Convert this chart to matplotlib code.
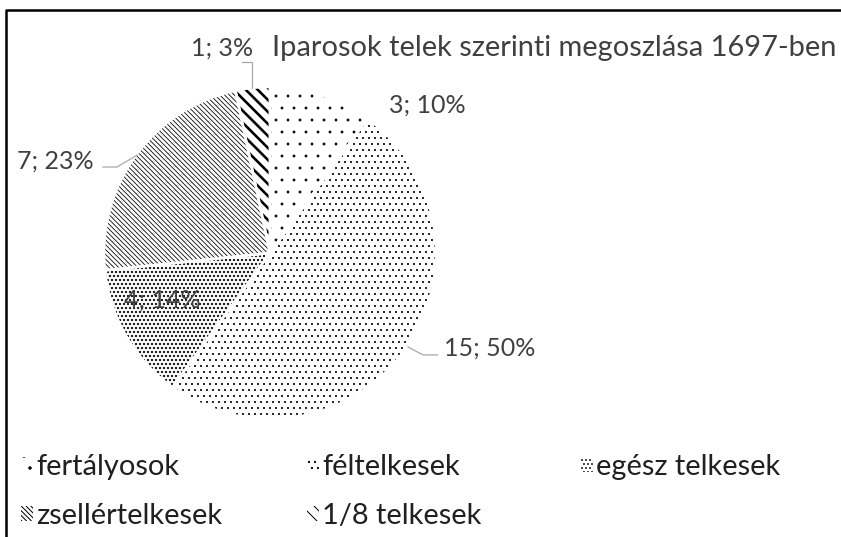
import matplotlib.pyplot as plt
from matplotlib.lines import Line2D

# data
categories = ['fertályosok', 'féltelkesek', 'egész telkesek', 'zsellértelkesek', '1/8 telkesek']
counts = [3, 15, 4, 7, 1]
pct_labels = ['10%', '50%', '14%', '23%', '3%']
title = 'Iparosok telek szerinti megoszlása 1697-ben'

# styles
hatches = ['.', '..', '...', '\\\\\\\\\\', '\\\\']
hatch_lw = [0.3, 0.8, 1.5, 0.8, 2.6]
txt_col = '#404040'
lead_col = '#a6a6a6'

DPI = 72
W, H = 841, 537
plt.rcParams['font.family'] = ['Lato', 'DejaVu Sans']
fig = plt.figure(figsize=(W / DPI, H / DPI), dpi=DPI)

# pie centre / radius in pixels
cx, cy, r = 270, 253, 166
ax = fig.add_axes([(cx - r) / W, (H - cy - r) / H, 2 * r / W, 2 * r / H])
wedges, _ = ax.pie(counts, startangle=90, counterclock=False, colors=['white'] * 5,
                   wedgeprops=dict(edgecolor='black', linewidth=0))
for w, h, lw in zip(wedges, hatches, hatch_lw):
    w.set_hatch(h)
    if hasattr(w, 'set_hatch_linewidth'):
        w.set_hatch_linewidth(lw)
# white separators
ax.pie(counts, startangle=90, counterclock=False, colors=['none'] * 5,
       wedgeprops=dict(edgecolor='white', linewidth=2.5))
ax.set_xlim(-1, 1)
ax.set_ylim(-1, 1)

# data labels
label_pos = [(0.946, 0.892), (1.325, -0.572), (-0.651, -0.283), (-1.295, 0.554), (-0.289, 1.235)]
for c, p, (x, y) in zip(counts, pct_labels, label_pos):
    ax.text(x, y, '%d; %s' % (c, p), ha='center', va='center', fontsize=25, color=txt_col)

# leader lines (label index -> path)
leaders = {
    1: [(0.831, -0.566), (0.922, -0.614), (1.010, -0.614)],
    3: [(-0.80, 0.59), (-0.922, 0.518), (-1.006, 0.518)],
    4: [(-0.108, 0.994), (-0.108, 1.151), (-0.170, 1.151)],
}
for i, pts in leaders.items():
    xs, ys = zip(*pts)
    ax.plot(xs, ys, color=lead_col, lw=1.2, clip_on=False)

# title
fig.text(272 / W, 1 - 48 / H, title, ha='left', va='center', fontsize=29, color=txt_col)

# frame lines (top and left only)
fig.add_artist(Line2D([6 / W, 6 / W, 1], [0, 1 - 10 / H, 1 - 10 / H],
                      transform=fig.transFigure, color='black', lw=2.5))

# legend, three columns laid out row by row
groups = [[0, 3], [1, 4], [2]]
col_x = [21, 307, 581]
for g, x in zip(groups, col_x):
    fig.legend([wedges[i] for i in g], [categories[i] for i in g],
               loc='upper left', bbox_to_anchor=(x / W, 1 - 454 / H),
               frameon=False, fontsize=29, labelcolor='#202020',
               handlelength=0.4, handleheight=0.4, handletextpad=0.12,
               borderpad=0, borderaxespad=0, labelspacing=0.78)

fig.savefig('out.png', dpi=DPI)
